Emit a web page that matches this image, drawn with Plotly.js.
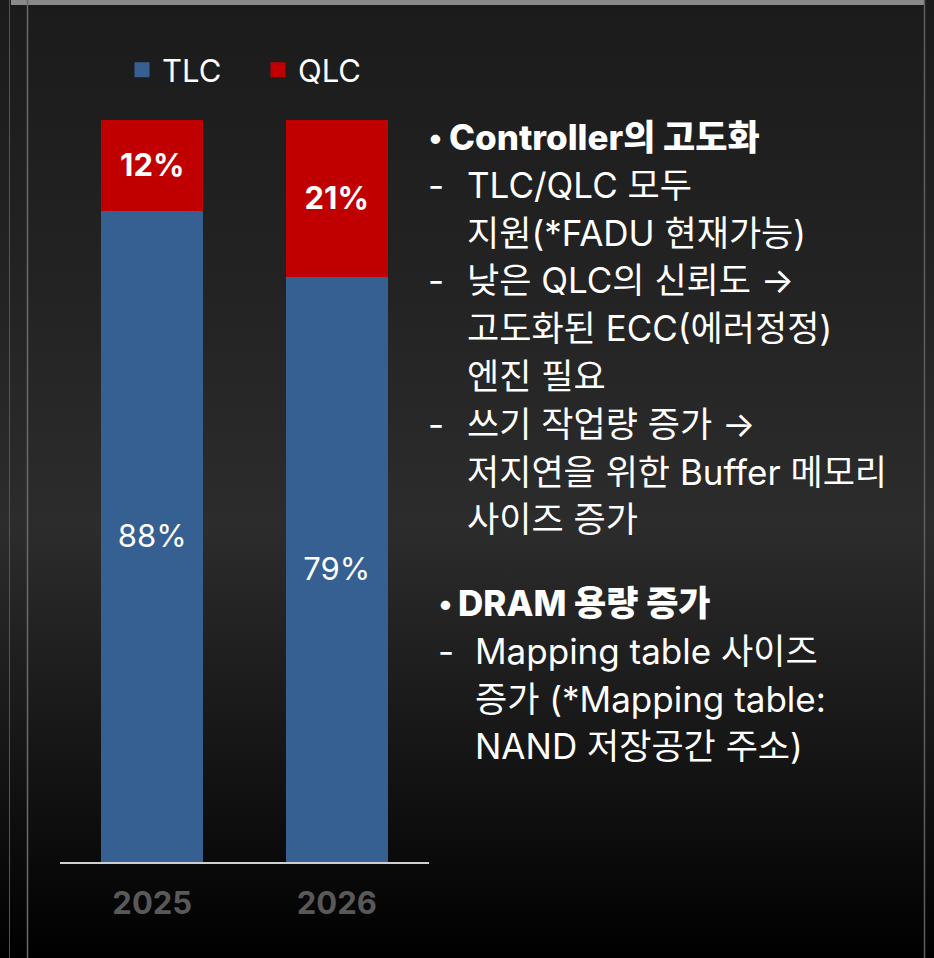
<!DOCTYPE html>
<html>
<head>
<meta charset="utf-8">
<script src="https://cdn.plot.ly/plotly-3.0.1.min.js"></script>
<style>
  html, body { margin:0; padding:0; }
  body { width:934px; height:958px; overflow:hidden;
         background: linear-gradient(to bottom, #1b1b1b 0%, #232323 30%, #2c2c2c 55%, #141414 80%, #000000 100%); }
  #chart { width:934px; height:958px; }
</style>
</head>
<body>
<div id="chart"></div>
<script>
// ---- data ----
const years = ['2025', '2026'];
const tlcShare = [88, 79];
const qlcShare = [12, 21];
const seriesNames = ['TLC', 'QLC'];
const seriesColors = ['#376092', '#c00000'];

// right-hand notes: [kind, text]  kind: 'h' heading bullet, 'd' dash item, 'c' continuation
const notesBlock1 = [
  ['h', 'Controller의 고도화'],
  ['d', 'TLC/QLC 모두'],
  ['c', '지원(*FADU 현재가능)'],
  ['d', '낮은 QLC의 신뢰도 →'],
  ['c', '고도화된 ECC(에러정정)'],
  ['c', '엔진 필요'],
  ['d', '쓰기 작업량 증가 →'],
  ['c', '저지연을 위한 Buffer 메모리'],
  ['c', '사이즈 증가']
];
const notesBlock2 = [
  ['h', 'DRAM 용량 증가'],
  ['d', 'Mapping table 사이즈'],
  ['c', '증가 (*Mapping table:'],
  ['c', 'NAND 저장공간 주소)']
];

// ---- geometry helpers (pixel -> paper) ----
const W = 934, H = 958;
const M = {l: 60, r: 505, t: 120, b: 96};
const PW = W - M.l - M.r, PH = H - M.t - M.b;
const px = x => (x - M.l) / PW;
const py = y => (H - M.b - y) / PH;

const FONT = 'Inter, "Noto Sans CJK KR", "Noto Sans", sans-serif';
const FS = 31;
const NFS = 35;

const annotations = [];
function addBlock(block, startY, bulletX, headX, dashX, textX) {
  block.forEach((item, i) => {
    const y = startY + i * 47.8;
    const kind = item[0], text = item[1];
    if (kind === 'h') {
      annotations.push({xref:'paper', yref:'paper', x:px(bulletX), y:py(y), xanchor:'center', yanchor:'middle',
        text:'•', showarrow:false, font:{family:FONT, size:NFS-5, color:'#ffffff'}});
      annotations.push({xref:'paper', yref:'paper', x:px(headX), y:py(y), xanchor:'left', yanchor:'middle',
        text:text, showarrow:false, font:{family:FONT, size:NFS, color:'#ffffff', weight:800}});
    } else {
      if (kind === 'd') {
        annotations.push({xref:'paper', yref:'paper', x:px(dashX), y:py(y), xanchor:'center', yanchor:'middle',
          text:'-', showarrow:false, font:{family:FONT, size:NFS, color:'#ffffff'}});
      }
      annotations.push({xref:'paper', yref:'paper', x:px(textX), y:py(y), xanchor:'left', yanchor:'middle',
        text:text, showarrow:false, font:{family:FONT, size:NFS, color:'#ffffff'}});
    }
  });
}
addBlock(notesBlock1, 137, 435, 447, 436, 465);
addBlock(notesBlock2, 603, 445, 456, 446, 473);

// frame decorations
const shapes = [
  {type:'rect', xref:'paper', yref:'paper', x0:px(11), x1:px(924), y0:py(0), y1:py(5),
   fillcolor:'#8a8a8a', line:{width:0}, layer:'above'},
  {type:'line', xref:'paper', yref:'paper', x0:px(9.5), x1:px(9.5), y0:py(0), y1:py(958),
   line:{color:'#555555', width:1}},
  {type:'line', xref:'paper', yref:'paper', x0:px(27.5), x1:px(27.5), y0:py(0), y1:py(958),
   line:{color:'#6a6a6a', width:1.5}},
  {type:'line', xref:'paper', yref:'paper', x0:px(924.5), x1:px(924.5), y0:py(0), y1:py(958),
   line:{color:'#5e5e5e', width:1.5}}
];

const traces = [
  {type:'bar', name:seriesNames[0], x:years, y:tlcShare,
   marker:{color:seriesColors[0], line:{color:seriesColors[0], width:3}},
   texttemplate:'%{y}%', textposition:'inside', insidetextanchor:'middle', textangle:0,
   textfont:{family:FONT, size:FS, color:'#ffffff'}},
  {type:'bar', name:seriesNames[1], x:years, y:qlcShare,
   marker:{color:seriesColors[1], line:{color:seriesColors[1], width:3}},
   texttemplate:'%{y}%', textposition:'inside', insidetextanchor:'middle', textangle:0,
   textfont:{family:FONT, size:FS, color:'#ffffff', weight:'bold'}}
];

const layout = {
  width: W, height: H,
  margin: M,
  paper_bgcolor: 'rgba(0,0,0,0)',
  plot_bgcolor: 'rgba(0,0,0,0)',
  barmode: 'stack',
  bargap: 0.463,
  showlegend: true,
  legend: {orientation:'h', traceorder:'normal', xref:'container', yref:'container',
           x: 122/W, y: 1 - 43/H, xanchor:'left', yanchor:'top',
           entrywidth: 91, entrywidthmode:'pixels',
           font:{family:FONT, size:FS, color:'#ffffff'}, bgcolor:'rgba(0,0,0,0)'},
  xaxis: {type:'category', range:[-0.5, 1.5], showline:true, linecolor:'#d0d0d0', linewidth:2,
          ticks:'', showgrid:false, zeroline:false, ticklabelstandoff: 13,
          tickfont:{family:FONT, size:FS, color:'#595959', weight:'bold'}},
  yaxis: {range:[0, 100], visible:false, showgrid:false, zeroline:false},
  annotations: annotations,
  shapes: shapes,
  hovermode: false
};

Plotly.newPlot('chart', traces, layout, {staticPlot:true, displayModeBar:false});
</script>
</body>
</html>
